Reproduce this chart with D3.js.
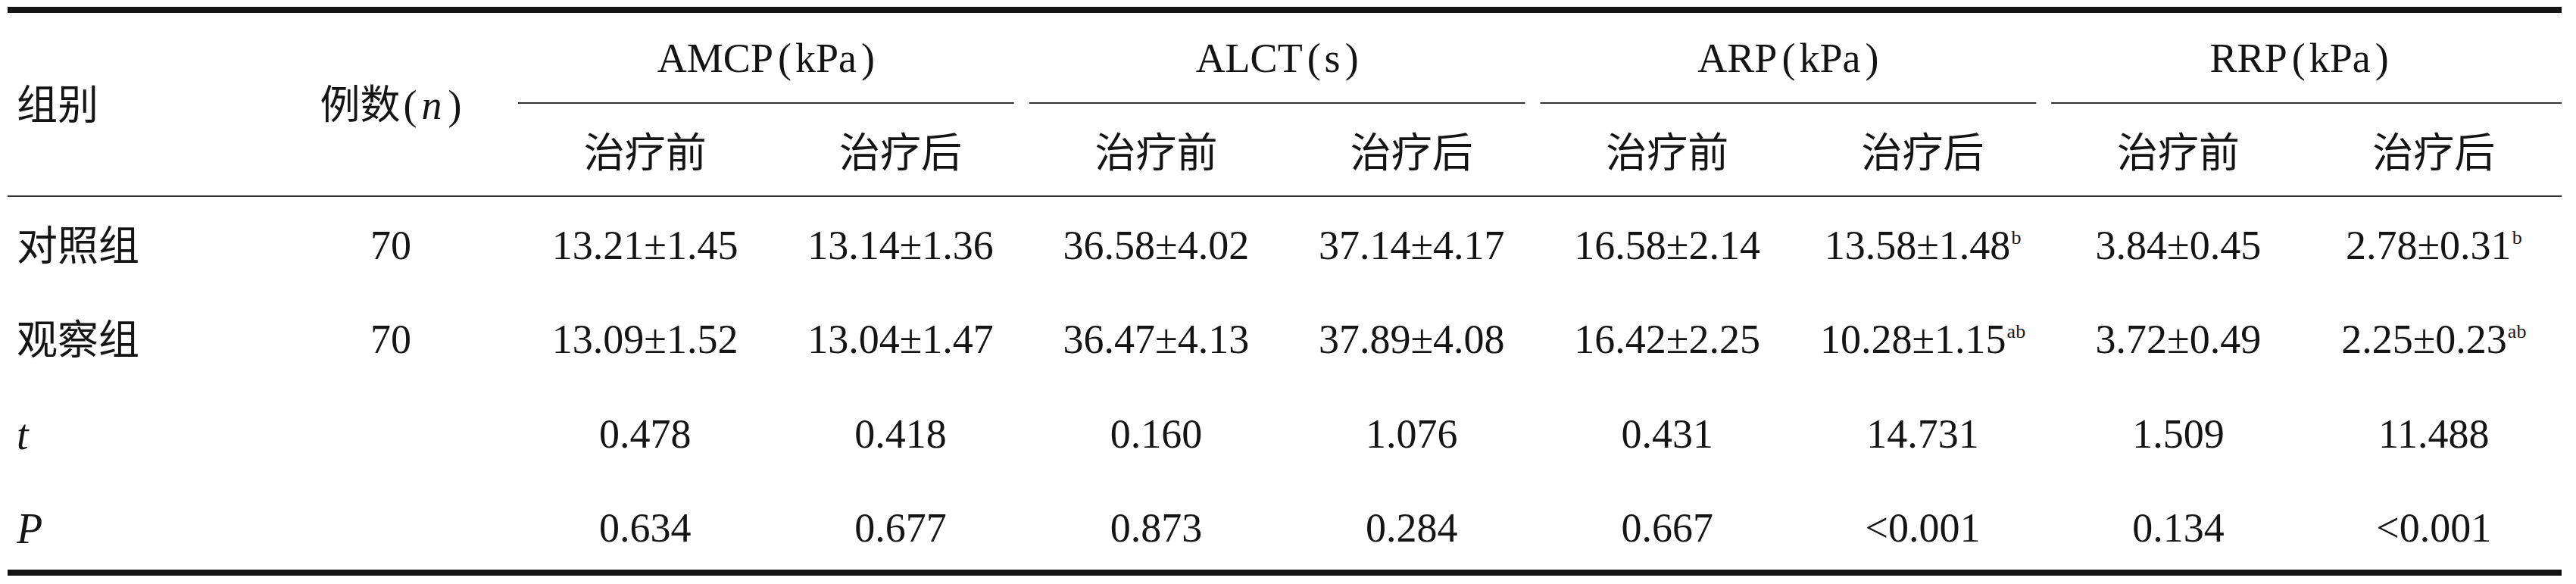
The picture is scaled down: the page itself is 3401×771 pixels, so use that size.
<!DOCTYPE html>
<html>
<head>
<meta charset="utf-8">
<script src="https://cdn.jsdelivr.net/npm/d3@7"></script>
<style>
body { margin: 0; background: #fff; }
svg { display: block; }
</style>
</head>
<body>
<div id="table"></div>
<script>
// table values
const groups = ["AMCP", "ALCT", "ARP", "RRP"];
const units = ["kPa", "s", "kPa", "kPa"];
const phases = ["治疗前", "治疗后"];
const rowLabels = ["对照组", "观察组", "t", "P"];
const counts = [70, 70];
const controlMean = [13.21, 13.14, 36.58, 37.14, 16.58, 13.58, 3.84, 2.78];
const controlSd = [1.45, 1.36, 4.02, 4.17, 2.14, 1.48, 0.45, 0.31];
const controlSup = ["", "", "", "", "", "b", "", "b"];
const observeMean = [13.09, 13.04, 36.47, 37.89, 16.42, 10.28, 3.72, 2.25];
const observeSd = [1.52, 1.47, 4.13, 4.08, 2.25, 1.15, 0.49, 0.23];
const observeSup = ["", "", "", "", "", "ab", "", "ab"];
const tValues = ["0.478", "0.418", "0.160", "1.076", "0.431", "14.731", "1.509", "11.488"];
const pValues = ["0.634", "0.677", "0.873", "0.284", "0.667", "<0.001", "0.134", "<0.001"];

const width = 3401,
    height = 771,
    left = 10,
    right = 3382,
    serif = "'Liberation Serif', 'Times New Roman', serif",
    cjk = "'Noto Sans CJK SC', sans-serif",
    ink = "#141414",

    svg = d3.select("#table").append("svg").
        attr("width", width).
        attr("height", height),

    colKeys = d3.range(groups.length * phases.length),
    x = d3.scaleBand().domain(colKeys).range([683, right]),
    gx = d3.scaleBand().domain(groups).range([683, right]),
    y = d3.scalePoint().domain(rowLabels).range([323, 696]),
    headY = {group: 76, phase: 200, span: 137},
    nX = 516,
    labelX = 22;

// rules
svg.append("rect").attr("x", left).attr("y", 9).attr("width", right - left).attr("height", 8).attr("fill", ink);
svg.append("rect").attr("x", left).attr("y", 752).attr("width", right - left).attr("height", 8).attr("fill", ink);
svg.append("rect").attr("x", left).attr("y", 258).attr("width", right - left).attr("height", 2).attr("fill", "#333");

svg.selectAll(".subrule").
    data(groups).
    enter().
    append("rect").
    attr("class", "subrule").
    attr("x", (d) => gx(d) + 1).
    attr("y", 135).
    attr("width", (d, i) => gx.bandwidth() - (i === groups.length - 1 ? 1 : 20)).
    attr("height", 2).
    attr("fill", "#333");

// shared serif cell style
const serifText = (sel) => sel.
    attr("font-family", serif).
    attr("font-size", 54).
    attr("fill", ink).
    attr("text-anchor", "middle");

// header: left labels
svg.append("text").
    attr("x", labelX).
    attr("y", headY.span + 21).
    attr("font-family", cjk).
    attr("font-size", 54).
    attr("fill", ink).
    text("组别");

const nHead = svg.append("text").
    attr("x", nX).
    attr("y", headY.span + 20).
    call(serifText);
nHead.append("tspan").attr("font-family", cjk).attr("font-size", 53).text("例数");
nHead.append("tspan").attr("dx", 4).text("(");
nHead.append("tspan").attr("dx", 6).attr("font-style", "italic").text("n");
nHead.append("tspan").attr("dx", 8).text(")");

// header: group titles
const gHead = svg.selectAll(".ghead").
    data(groups).
    enter().
    append("text").
    attr("class", "ghead").
    attr("x", (d) => gx(d) + gx.bandwidth() / 2 - 9).
    attr("y", headY.group + 19).
    call(serifText);
gHead.append("tspan").text((d) => d);
gHead.append("tspan").attr("dx", 6).text("(");
gHead.append("tspan").attr("dx", 5).text((d, i) => units[i]);
gHead.append("tspan").attr("dx", 6).text(")");

// header: phase titles
svg.selectAll(".phead").
    data(colKeys).
    enter().
    append("text").
    attr("class", "phead").
    attr("x", (d) => x(d) + x.bandwidth() / 2).
    attr("y", headY.phase + 21).
    attr("font-family", cjk).
    attr("font-size", 54).
    attr("fill", ink).
    attr("text-anchor", "middle").
    text((d) => phases[d % phases.length]);

// body: row labels
svg.selectAll(".rlabel").
    data(rowLabels).
    enter().
    append("text").
    attr("class", "rlabel").
    attr("x", labelX).
    attr("y", (d) => y(d) + 21).
    attr("font-family", (d, i) => i < 2 ? cjk : serif).
    attr("font-style", (d, i) => i < 2 ? "normal" : "italic").
    attr("font-size", (d, i) => i < 2 ? 54 : 56).
    attr("fill", ink).
    text((d) => d);

// body: counts
svg.selectAll(".count").
    data(counts).
    enter().
    append("text").
    attr("class", "count").
    attr("x", nX).
    attr("y", (d, i) => y(rowLabels[i]) + 19).
    call(serifText).
    text((d) => d);

// body: mean ± sd rows
const meanRows = [
    {label: rowLabels[0], mean: controlMean, sd: controlSd, sup: controlSup},
    {label: rowLabels[1], mean: observeMean, sd: observeSd, sup: observeSup}
];

meanRows.forEach((row) => {
    const cells = svg.selectAll(null).
        data(colKeys).
        enter().
        append("text").
        attr("x", (d) => x(d) + x.bandwidth() / 2).
        attr("y", y(row.label) + 19).
        call(serifText);
    cells.append("tspan").
        text((d) => `${row.mean[d].toFixed(2)}±${row.sd[d].toFixed(2)}`);
    cells.append("tspan").
        attr("font-size", 26).
        attr("dx", 1).
        attr("dy", -20).
        text((d) => row.sup[d]);
});

// body: test statistics
[[rowLabels[2], tValues], [rowLabels[3], pValues]].forEach(([label, vals]) => {
    svg.selectAll(null).
        data(vals).
        enter().
        append("text").
        attr("x", (d, i) => x(i) + x.bandwidth() / 2).
        attr("y", y(label) + 19).
        call(serifText).
        text((d) => d);
});
</script>
</body>
</html>
